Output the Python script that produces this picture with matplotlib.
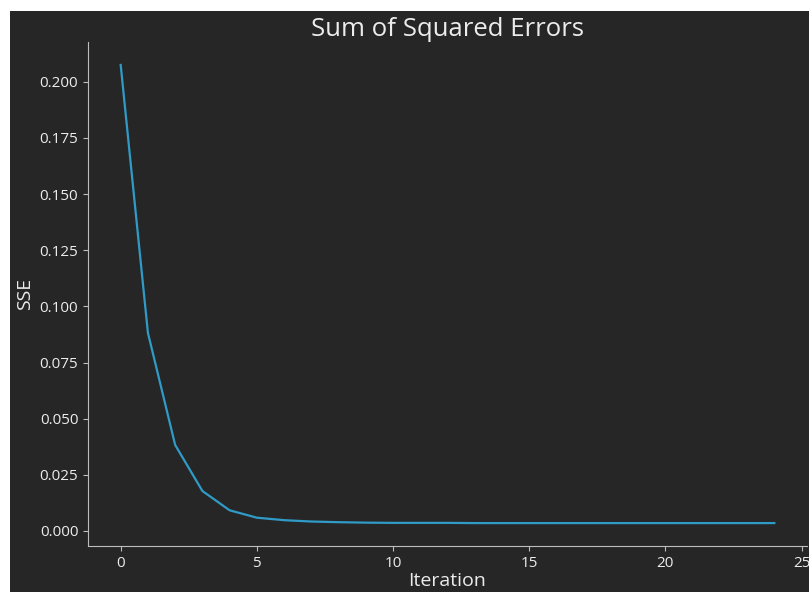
import matplotlib
matplotlib.use("Agg")
import matplotlib.pyplot as plt
from matplotlib.patches import Rectangle

plt.rcParams['font.family'] = ['Open Sans', 'DejaVu Sans']

# SSE per iteration
iterations = list(range(25))
sse = [0.2075, 0.0882, 0.0383, 0.0178, 0.0092, 0.0059, 0.0048, 0.0042, 0.0039,
       0.0037, 0.0036, 0.0036, 0.0036, 0.0035, 0.0035, 0.0035, 0.0035, 0.0035,
       0.0035, 0.0035, 0.0035, 0.0035, 0.0035, 0.0035, 0.0035]

bg = '#262626'
fg = '#ececec'
axis_col = '#bdbdbd'

fig = plt.figure(figsize=(8.09, 5.92), dpi=100, facecolor='white')
# dark panel, white strip on top and left like the reference
fig.patches.append(Rectangle((10 / 809, 0), 799 / 809, 581 / 592,
                             transform=fig.transFigure, facecolor=bg,
                             edgecolor='none', zorder=-10))
ax = fig.add_axes([88 / 809, 1 - 546 / 592, (807 - 88) / 809, (546 - 42) / 592])
ax.set_facecolor(bg)

ax.plot(iterations, sse, color='#2f9bc6', linewidth=1.6)

ax.set_title('Sum of Squared Errors', color=fg, fontsize=18.5, pad=4)
ax.set_xlabel('Iteration', color=fg, fontsize=14, labelpad=1)
ax.set_ylabel('SSE', color=fg, fontsize=14, labelpad=4)

ax.set_xticks([0, 5, 10, 15, 20, 25])
ax.set_yticks([0.0, 0.025, 0.05, 0.075, 0.1, 0.125, 0.15, 0.175, 0.2])
ax.set_yticklabels(['0.000', '0.025', '0.050', '0.075', '0.100', '0.125',
                    '0.150', '0.175', '0.200'])
ax.tick_params(colors=axis_col, labelcolor=fg, labelsize=11, length=3.5)

for s in ['top', 'right']:
    ax.spines[s].set_visible(False)
for s in ['left', 'bottom']:
    ax.spines[s].set_color(axis_col)

fig.savefig('out.png', dpi=100, facecolor='white')
